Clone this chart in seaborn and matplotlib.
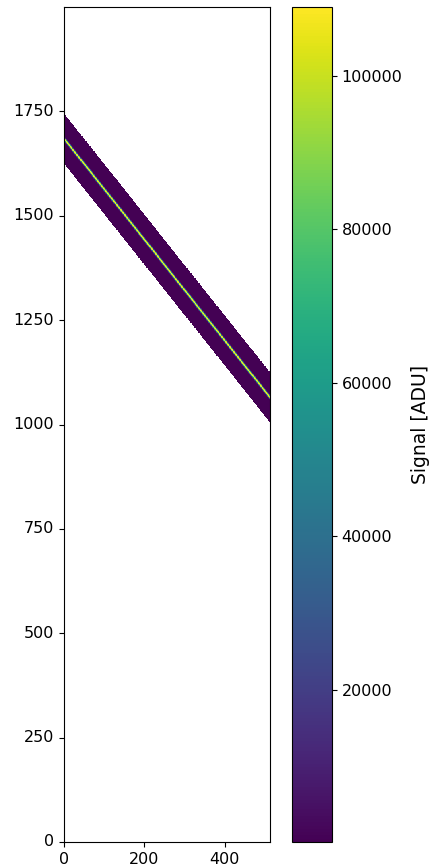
import numpy as np
import matplotlib
matplotlib.use("Agg")
import matplotlib.pyplot as plt
import seaborn as sns

# Detector frame geometry
n_cols = 512
n_rows = 2000

# Spectral trace: centre row at the first and last column, and half-width of the extraction band
trace_cols = [0, 512]
trace_rows = [1685, 1065]
band_halfwidth = 60

# Cross-dispersion profile (signal in ADU at integer row offsets from the trace centre)
profile_offsets = [-8, -7, -6, -5, -4, -3, -2, -1, 0, 1, 2, 3, 4, 5, 6, 7, 8]
profile_values = [1000, 2500, 7000, 18000, 40000, 70000, 95000, 106000, 109000,
                  106000, 95000, 70000, 40000, 18000, 7000, 2500, 1000]
band_floor = 150

# Axis ticks
x_ticks = [0, 200, 400]
y_ticks = [0, 250, 500, 750, 1000, 1250, 1500, 1750]
cbar_ticks = [20000, 40000, 60000, 80000, 100000]

# Build the frame: band around the trace, NaN elsewhere
cols = np.arange(n_cols) + 0.5
rows = np.arange(n_rows) + 0.5
slope = (trace_rows[1] - trace_rows[0]) / (trace_cols[1] - trace_cols[0])
centre = trace_rows[0] + slope * (cols - trace_cols[0])
offset = rows[:, None] - centre[None, :]
img = np.full((n_rows, n_cols), np.nan)
in_band = np.abs(offset) <= band_halfwidth
img[in_band] = band_floor
nearest = np.rint(offset).astype(int)
for off, val in zip(profile_offsets, profile_values):
    img[nearest == off] = val

fig = plt.figure(figsize=(4.34, 8.68), dpi=100)
W, H = 434, 868
ax = fig.add_axes([64 / W, (H - 842) / H, (270 - 64) / W, (842 - 7) / H])
cax = fig.add_axes([292 / W, (H - 842) / H, (332 - 292) / W, (842 - 7) / H])

sns.heatmap(img, mask=np.isnan(img), cmap="viridis", ax=ax, cbar_ax=cax,
            xticklabels=False, yticklabels=False,
            vmin=np.nanmin(img), vmax=np.nanmax(img),
            cbar_kws={"label": "Signal [ADU]"}, rasterized=True)

ax.set_xlim(0, n_cols)
ax.set_ylim(0, n_rows)
ax.set_xticks(x_ticks)
ax.set_xticklabels([str(t) for t in x_ticks], rotation=0)
ax.set_yticks(y_ticks)
ax.set_yticklabels([str(t) for t in y_ticks], rotation=0, va="center")
ax.tick_params(axis="both", length=3.5, width=0.8, direction="out",
               labelsize=11.5, colors="black")
for s in ax.spines.values():
    s.set_visible(True)
    s.set_color("black")
    s.set_linewidth(0.8)

cb = ax.collections[0].colorbar
cb.outline.set_visible(True)
cb.outline.set_linewidth(0.8)
cb.outline.set_edgecolor("black")
cb.set_ticks(cbar_ticks)
cb.set_ticklabels([str(t) for t in cbar_ticks])
cb.ax.tick_params(labelsize=11.5, length=3.5, width=0.8)
cb.set_label("Signal [ADU]", fontsize=13.5, labelpad=6)

fig.savefig("out.png", dpi=100)
